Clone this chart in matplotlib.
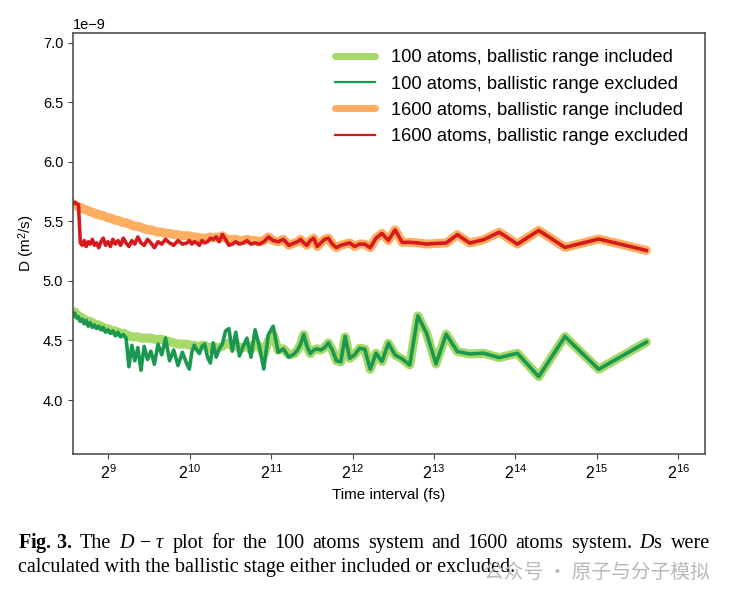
import numpy as np
import matplotlib
matplotlib.use("Agg")
from matplotlib import pyplot as plt
from matplotlib.lines import Line2D

plt.rcParams['font.family'] = ['Liberation Sans', 'DejaVu Sans']
plt.rcParams['mathtext.fontset'] = 'custom'
plt.rcParams['mathtext.rm'] = 'Liberation Serif'
plt.rcParams['mathtext.it'] = 'Liberation Serif:italic'
plt.rcParams['mathtext.bf'] = 'Liberation Serif:bold'

# trajectory length (fs) and number of segments it was cut into -> time interval
total_fs = 100000
n_seg = [264, 260, 256, 252, 248, 244, 240, 236, 232, 228, 224, 220, 216, 212,
         208, 204, 200, 196, 192, 188, 184, 180, 176, 172, 168, 164, 160, 156,
         152, 148, 144, 140, 136, 132, 128, 124, 120, 116, 112, 108, 104,
         100, 98, 96, 94, 92, 90, 88, 86, 84, 82, 80, 78, 76, 74, 72, 70, 68,
         66, 64, 62, 60, 58, 56, 54, 52, 50, 48, 46, 44, 42,
         40, 39, 38, 37, 36, 35, 34, 33, 32, 31, 30, 29, 28, 27, 26, 25, 24,
         23, 22, 21, 20, 19, 18, 17, 16, 15, 14, 13, 12, 11, 10, 9, 8, 7, 6,
         5, 4, 3, 2]

# D in units of 1e-9 m^2/s
inc_100 = [4.72, 4.74, 4.72, 4.71, 4.69, 4.69, 4.68, 4.67, 4.66, 4.66, 4.65, 4.64, 4.63, 4.63,
           4.62, 4.61, 4.60, 4.60, 4.59, 4.58, 4.58, 4.57, 4.56, 4.56, 4.55, 4.54, 4.53, 4.53,
           4.53, 4.52, 4.52, 4.52, 4.52, 4.51, 4.51, 4.51, 4.50, 4.49, 4.48, 4.47, 4.47,
           4.47, 4.46, 4.46, 4.46, 4.45, 4.45, 4.46, 4.46, 4.44, 4.43, 4.45, 4.44, 4.44, 4.45,
           4.47, 4.48, 4.45, 4.47, 4.43, 4.44, 4.46, 4.42, 4.48, 4.45, 4.38, 4.50, 4.55, 4.42,
           4.43, 4.38,
           4.39, 4.42, 4.47, 4.55, 4.45, 4.39, 4.42, 4.43, 4.42, 4.44, 4.48, 4.42, 4.33, 4.32,
           4.53, 4.35, 4.38, 4.435, 4.427, 4.258, 4.393, 4.323, 4.477, 4.379, 4.345, 4.295,
           4.707, 4.561, 4.303, 4.553, 4.407, 4.387, 4.393, 4.356, 4.393, 4.196, 4.533, 4.258,
           4.486]
exc_100 = [4.71, 4.73, 4.69, 4.70, 4.66, 4.68, 4.64, 4.67, 4.62, 4.65, 4.61, 4.63, 4.60, 4.62,
           4.59, 4.61, 4.57, 4.59, 4.56, 4.58, 4.54, 4.57, 4.53, 4.55, 4.52, 4.28, 4.46, 4.33,
           4.44, 4.25, 4.45, 4.34, 4.41, 4.30, 4.47, 4.38, 4.52, 4.33, 4.42, 4.29, 4.40,
           4.30, 4.26, 4.40, 4.46, 4.42, 4.39, 4.45, 4.47, 4.36, 4.31, 4.48, 4.36, 4.43, 4.47,
           4.58, 4.60, 4.41, 4.57, 4.37, 4.45, 4.52, 4.36, 4.59, 4.45, 4.26, 4.55, 4.62, 4.40,
           4.43, 4.36,
           4.39, 4.42, 4.47, 4.55, 4.45, 4.39, 4.42, 4.43, 4.42, 4.44, 4.48, 4.42, 4.33, 4.32,
           4.533, 4.35, 4.379, 4.435, 4.427, 4.258, 4.393, 4.323, 4.477, 4.379, 4.345, 4.295,
           4.707, 4.561, 4.303, 4.553, 4.407, 4.387, 4.393, 4.356, 4.393, 4.196, 4.533, 4.258,
           4.486]
inc_1600 = [5.65, 5.64, 5.63, 5.62, 5.62, 5.61, 5.60, 5.60, 5.59, 5.58, 5.58, 5.57, 5.56, 5.56,
            5.55, 5.55, 5.54, 5.53, 5.53, 5.52, 5.51, 5.51, 5.50, 5.49, 5.49, 5.48, 5.47, 5.46,
            5.46, 5.45, 5.44, 5.43, 5.43, 5.42, 5.41, 5.41, 5.40, 5.40, 5.39, 5.39, 5.38,
            5.38, 5.38, 5.37, 5.37, 5.37, 5.36, 5.36, 5.36, 5.36, 5.37, 5.36, 5.37, 5.36, 5.38,
            5.36, 5.35, 5.35, 5.35, 5.34, 5.34, 5.35, 5.34, 5.34, 5.33, 5.34, 5.37, 5.34, 5.33,
            5.35, 5.30,
            5.32, 5.33, 5.35, 5.32, 5.30, 5.34, 5.36, 5.29, 5.32, 5.35, 5.36, 5.31, 5.28, 5.30,
            5.31, 5.32, 5.29, 5.31, 5.31, 5.28, 5.36, 5.40, 5.34, 5.43, 5.325, 5.325,
            5.32, 5.31, 5.316, 5.319, 5.389, 5.319, 5.347, 5.41, 5.31, 5.425, 5.282, 5.353,
            5.257]
exc_1600 = [5.65, 5.66, 5.65, 5.64, 5.32, 5.30, 5.34, 5.29, 5.33, 5.31, 5.35, 5.30, 5.32, 5.28,
            5.33, 5.36, 5.30, 5.33, 5.29, 5.35, 5.31, 5.34, 5.30, 5.36, 5.32, 5.29, 5.34, 5.31,
            5.37, 5.32, 5.30, 5.35, 5.32, 5.28, 5.33, 5.31, 5.35, 5.32, 5.30, 5.34, 5.31,
            5.32, 5.34, 5.31, 5.33, 5.32, 5.30, 5.34, 5.32, 5.33, 5.36, 5.35, 5.37, 5.33, 5.39,
            5.35, 5.30, 5.31, 5.33, 5.31, 5.32, 5.34, 5.31, 5.32, 5.31, 5.33, 5.37, 5.34, 5.33,
            5.35, 5.30,
            5.32, 5.33, 5.35, 5.32, 5.30, 5.34, 5.36, 5.29, 5.32, 5.35, 5.36, 5.31, 5.28, 5.30,
            5.31, 5.32, 5.29, 5.31, 5.31, 5.28, 5.36, 5.40, 5.34, 5.43, 5.325, 5.325,
            5.32, 5.31, 5.316, 5.319, 5.389, 5.319, 5.347, 5.41, 5.31, 5.425, 5.282, 5.353,
            5.257]

labels = ["100 atoms, ballistic range included", "100 atoms, ballistic range excluded",
          "1600 atoms, ballistic range included", "1600 atoms, ballistic range excluded"]
colors = ["#a6d96a", "#1a9850", "#fdae61", "#d7191c"]

caption_1 = [r"$\mathbf{Fig.\,3.}$", "The", r"$D\,-\,\tau$", "plot", "for", "the", "100", "atoms",
             "system", "and", "1600", "atoms", "system.", r"$D$s", "were"]
caption_2 = "calculated with the ballistic stage either included or excluded."
watermark = "公众号 · 原子与分子模拟"

tau = total_fs / np.array(n_seg, dtype=float)
scale = 1e-9

fig = plt.figure(figsize=(7.33, 6.02), dpi=100)
ax = fig.add_axes([0.0996, 0.2458, 0.8622, 0.6994])

ax.plot(tau, np.array(inc_100) * scale, color=colors[0], lw=6.5, solid_capstyle='round')
ax.plot(tau, np.array(exc_100) * scale, color=colors[1], lw=2.6)
ax.plot(tau, np.array(inc_1600) * scale, color=colors[2], lw=6.5, solid_capstyle='round')
ax.plot(tau, np.array(exc_1600) * scale, color=colors[3], lw=2.6)

ax.set_xscale('log', base=2)
ax.set_xlim(tau.min(), 82400)
ax.set_ylim(3.546e-9, 7.084e-9)
ax.set_xticks([2.0 ** k for k in range(9, 17)])
ax.minorticks_off()
ax.tick_params(color='#444444')
ax.tick_params(axis='x', labelsize=11.5)
ax.tick_params(axis='y', labelsize=10.5)
ax.set_yticks(np.arange(4.0, 7.01, 0.5) * scale)
for s in ax.spines.values():
    s.set_color('#444444')
    s.set_linewidth(1.1)
ax.yaxis.get_offset_text().set_fontsize(10.5)

ax.set_xlabel("Time interval (fs)", fontsize=11)
ax.set_ylabel(r"D (m$^{\mathdefault{2}}$/s)", fontsize=11)

handles = [Line2D([], [], color=colors[0], lw=5, solid_capstyle='round'),
           Line2D([], [], color=colors[1], lw=1.6),
           Line2D([], [], color=colors[2], lw=5, solid_capstyle='round'),
           Line2D([], [], color=colors[3], lw=1.6)]
ax.legend(handles, labels, loc='upper right', frameon=False, fontsize=13.2,
          handlelength=2.2, handletextpad=0.9, labelspacing=0.5, borderaxespad=0.5)

# caption, first line justified between x=18 and x=710 px
W, H = fig.get_size_inches() * fig.dpi
cap_font = dict(family='Liberation Serif', fontsize=14.5)
renderer = fig.canvas.get_renderer()
pieces = [fig.text(0, 1 - 548 / H, w, va='baseline', **cap_font) for w in caption_1]
widths = [p.get_window_extent(renderer).width for p in pieces]
gap = (710 - 18 - sum(widths)) / (len(pieces) - 1)
xpos = 18
for p, w in zip(pieces, widths):
    p.set_x(xpos / W)
    xpos += w + gap
fig.text(18 / W, 1 - 572 / H, caption_2, va='baseline', **cap_font)
fig.text(484 / W, 1 - 572 / H, watermark, va='center',
         family=['Noto Sans CJK SC', 'DejaVu Sans'], fontsize=14.2, color='#b8b8b8')

fig.savefig("out.png", dpi=100)
